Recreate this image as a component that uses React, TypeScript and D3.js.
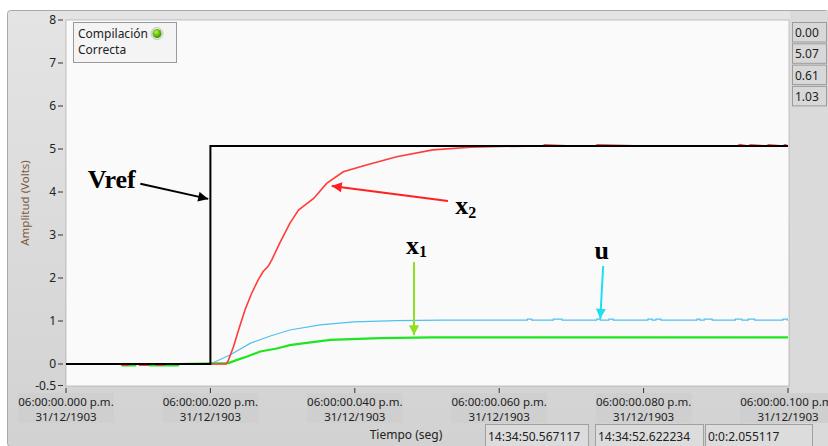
import React from 'react';
import * as d3 from 'd3';

// time in ms, amplitude in volts
const vrefT = [0, 20, 20, 100];
const vrefV = [0, 0, 5.07, 5.07];

const x2T = [0, 7.7, 7.8, 8.6, 8.7, 10.1, 10.2, 11.4, 11.5, 12.5, 12.6, 13.4, 13.5, 22.2, 22.5, 23.2, 23.9, 24.8, 25.7, 26.6, 27.3, 28, 28.5, 29.6, 31, 32.2, 34.3, 36.1, 38.4, 41.6, 45.8, 50.8, 56, 60, 66, 66.3, 70, 73.3, 73.6, 80, 93, 93.3, 94.5, 94.8, 97, 97.3, 99.3, 99.6, 100];
const x2V = [0, 0, -0.03, -0.03, 0, 0, -0.03, -0.03, 0, 0, -0.03, -0.03, 0, 0, 0.09, 0.4, 0.79, 1.26, 1.64, 1.95, 2.15, 2.27, 2.42, 2.81, 3.27, 3.58, 3.85, 4.2, 4.47, 4.63, 4.82, 4.98, 5.04, 5.06, 5.07, 5.1, 5.07, 5.07, 5.1, 5.07, 5.07, 5.1, 5.07, 5.1, 5.07, 5.1, 5.07, 5.1, 5.07];

const x1T = [0, 7.7, 7.8, 9.6, 9.7, 11.5, 11.6, 15.5, 15.6, 22.5, 23.6, 25, 26.9, 29.2, 31, 32.8, 36.6, 43.5, 50.8, 60, 80, 100];
const x1V = [0, 0, -0.03, -0.03, 0, 0, -0.03, -0.03, 0, 0.02, 0.09, 0.17, 0.29, 0.36, 0.44, 0.48, 0.56, 0.6, 0.62, 0.62, 0.62, 0.62];

// u: rising part, then a flat tail with short one-pixel bumps
const uRiseT = [0, 20, 22.7, 25.5, 28.3, 31, 35.2, 39.8, 45.8, 52];
const uRiseV = [0, 0, 0.21, 0.48, 0.65, 0.79, 0.91, 0.98, 1.01, 1.02];
const uTailT = [52, 63.9, 64.5, 67.5, 68.7, 73.5, 74, 75.2, 75.8, 80.6, 81.2, 81.7, 82.4, 87.4, 87.8, 88.4, 89.5, 92.7, 93.6, 94.5, 95.4, 99.3, 99.9, 100];
const uTailV = [1.02, 1.045, 1.02, 1.045, 1.02, 1.045, 1.02, 1.045, 1.02, 1.045, 1.02, 1.045, 1.02, 1.045, 1.02, 1.045, 1.02, 1.045, 1.02, 1.045, 1.02, 1.045, 1.02, 1.02];

const xTicks = [0, 20, 40, 60, 80, 100];
const xTickTime = ['06:00:00.000 p.m.', '06:00:00.020 p.m.', '06:00:00.040 p.m.', '06:00:00.060 p.m.', '06:00:00.080 p.m.', '06:00:00.100 p.m.'];
const xTickDate = '31/12/1903';
const yTicks = [8, 7, 6, 5, 4, 3, 2, 1, 0, -0.5];
const yTickLabels = ['8', '7', '6', '5', '4', '3', '2', '1', '0', '-0.5'];

const cursorValues = ['0.00', '5.07', '0.61', '1.03'];
const timeBoxes = ['14:34:50.567117', '14:34:52.622234', '0:0:2.055117'];

const W = 828;
const H = 446;
const font = '"Noto Sans", "Open Sans", sans-serif';
const serif = '"Liberation Serif", "DejaVu Serif", serif';

export default function App() {
  const x = d3.scaleLinear().domain([0, 100]).range([66, 788]);
  const y = d3.scaleLinear().domain([-0.5, 8]).range([385.5, 20]);

  const mk = (ts: number[], vs: number[], curve: d3.CurveFactory = d3.curveLinear) =>
    d3.line<number>().curve(curve).x(i => x(ts[i])).y(i => y(vs[i]))(d3.range(ts.length)) || '';

  const plotL = 66, plotR = 789, plotT = 20, plotB = 386;

  return (
    <svg width={W} height={H} style={{ position: 'absolute', left: 0, top: 0, background: '#fff' }}>
      <defs>
        <linearGradient id="panel" x1="0" y1="0" x2="0" y2="1">
          <stop offset="0" stopColor="#e4e4e4" />
          <stop offset="1" stopColor="#d2d2d2" />
        </linearGradient>
        <radialGradient id="led" cx="0.4" cy="0.35" r="0.7">
          <stop offset="0" stopColor="#b8f060" />
          <stop offset="0.6" stopColor="#5cb800" />
          <stop offset="1" stopColor="#3a8a00" />
        </radialGradient>
        {[['blk', '#000'], ['red', '#ff2020'], ['grn', '#8fe020'], ['cyn', '#20e0f0']].map(([id, c]) => (
          <marker key={id} id={id} viewBox="0 0 10 10" refX="10" refY="5" markerWidth="12" markerHeight="10"
            markerUnits="userSpaceOnUse" orient="auto">
            <path d="M0,0 L10,5 L0,10 z" fill={c} />
          </marker>
        ))}
      </defs>

      {/* panel */}
      <rect x={7.5} y={10.5} width={W - 7} height={H - 10} rx={3} fill="url(#panel)" stroke="#a8a8a8" />
      <rect x={plotR + 1} y={11} width={W - plotR - 1} height={H - 11} fill="#dadada" />

      {/* plot area */}
      <rect x={plotL} y={plotT} width={plotR - plotL} height={plotB - plotT} fill="#fafafa" stroke="#a0a0a0" strokeWidth={0.6} />

      {/* y axis */}
      {yTicks.map((t, i) => (
        <g key={t}>
          <line x1={58} x2={63} y1={y(t)} y2={y(t)} stroke="#333" />
          <text x={56} y={y(t)} dy="0.35em" textAnchor="end" fontFamily={font} fontSize={12} fill="#222">{yTickLabels[i]}</text>
        </g>
      ))}
      <text transform={`translate(29,203) rotate(-90)`} textAnchor="middle" fontFamily={font} fontSize={11.5} fill="#7b5a3a">Amplitud (Volts)</text>

      {/* x axis */}
      {xTicks.map((t, i) => (
        <g key={t}>
          <rect x={x(t) - 48} y={393} width={96} height={30} fill="#cfcfcf" />
          <line x1={x(t)} x2={x(t)} y1={388} y2={393} stroke="#333" />
          <text x={x(t)} y={405.5} textAnchor="middle" fontFamily={font} fontSize={11.5} fill="#222">{xTickTime[i]}</text>
          <text x={x(t)} y={421} textAnchor="middle" fontFamily={font} fontSize={11.5} fill="#222">{xTickDate}</text>
        </g>
      ))}
      <text x={406} y={439} textAnchor="middle" fontFamily={font} fontSize={12} fill="#222">Tiempo (seg)</text>

      {/* series */}
      <path d={mk(uRiseT, uRiseV)} fill="none" stroke="#50c0f0" strokeWidth={1.2} />
      <path d={mk(uTailT, uTailV, d3.curveStepAfter)} fill="none" stroke="#50c0f0" strokeWidth={1.2} />
      <path d={mk(x1T, x1V)} fill="none" stroke="#1ee61e" strokeWidth={2.2} />
      <path d={mk(x2T, x2V)} fill="none" stroke="#ff3c3c" strokeWidth={1.6} />
      <path d={mk(vrefT, vrefV)} fill="none" stroke="#000" strokeWidth={2} />

      {/* annotations */}
      <text x={x(3)} y={y(4.1)} fontFamily={serif} fontWeight="bold" fontSize={26} fill="#000">Vref</text>
      <line x1={x(10.3)} y1={y(4.19)} x2={x(19.7)} y2={y(3.84)} stroke="#000" strokeWidth={2} markerEnd="url(#blk)" />

      <text x={x(53.9)} y={y(3.49)} fontFamily={serif} fontWeight="bold" fontSize={26} fill="#000">
        x<tspan fontSize={16} dy={4}>2</tspan>
      </text>
      <line x1={x(52.9)} y1={y(3.79)} x2={x(36.8)} y2={y(4.14)} stroke="#ff2020" strokeWidth={2} markerEnd="url(#red)" />

      <text x={x(47.1)} y={y(2.56)} fontFamily={serif} fontWeight="bold" fontSize={26} fill="#000">
        x<tspan fontSize={16} dy={3}>1</tspan>
      </text>
      <line x1={x(48.2)} y1={y(2.37)} x2={x(48.2)} y2={y(0.67)} stroke="#8fe020" strokeWidth={2} markerEnd="url(#grn)" />

      <text x={x(74.2)} y={y(2.44)} textAnchor="middle" fontFamily={serif} fontWeight="bold" fontSize={26} fill="#000">u</text>
      <line x1={x(74.4)} y1={y(2.28)} x2={x(74.0)} y2={y(1.05)} stroke="#20e0f0" strokeWidth={2} markerEnd="url(#cyn)" />

      {/* status legend */}
      <rect x={73.5} y={22.5} width={103} height={40} fill="#f4f4f4" stroke="#9a9a9a" />
      <text x={78} y={38} fontFamily={font} fontSize={12} fill="#222">Compilación</text>
      <text x={78} y={54} fontFamily={font} fontSize={12} fill="#222">Correcta</text>
      <circle cx={157} cy={33.5} r={6} fill="#e8e8e8" stroke="#c8c8c8" />
      <circle cx={157} cy={33.5} r={4.5} fill="url(#led)" />

      {/* cursor values */}
      {cursorValues.map((v, i) => (
        <g key={i}>
          <rect x={792.5} y={22.5 + i * 21.3} width={34} height={19.5} fill="#d8d8d8" stroke="#9c9c9c" />
          <text x={795} y={37 + i * 21.3} fontFamily={font} fontSize={12} fill="#222">{v}</text>
        </g>
      ))}

      {/* time boxes */}
      {timeBoxes.map((v, i) => (
        <g key={i}>
          <rect x={[485.5, 595.5, 705.5][i]} y={424.5} width={[103, 108, 107][i]} height={24} fill="#dcdcdc" stroke="#a0a0a0" />
          <text x={[488, 598, 708][i]} y={441} fontFamily={font} fontSize={12} fill="#222">{v}</text>
        </g>
      ))}
    </svg>
  );
}
